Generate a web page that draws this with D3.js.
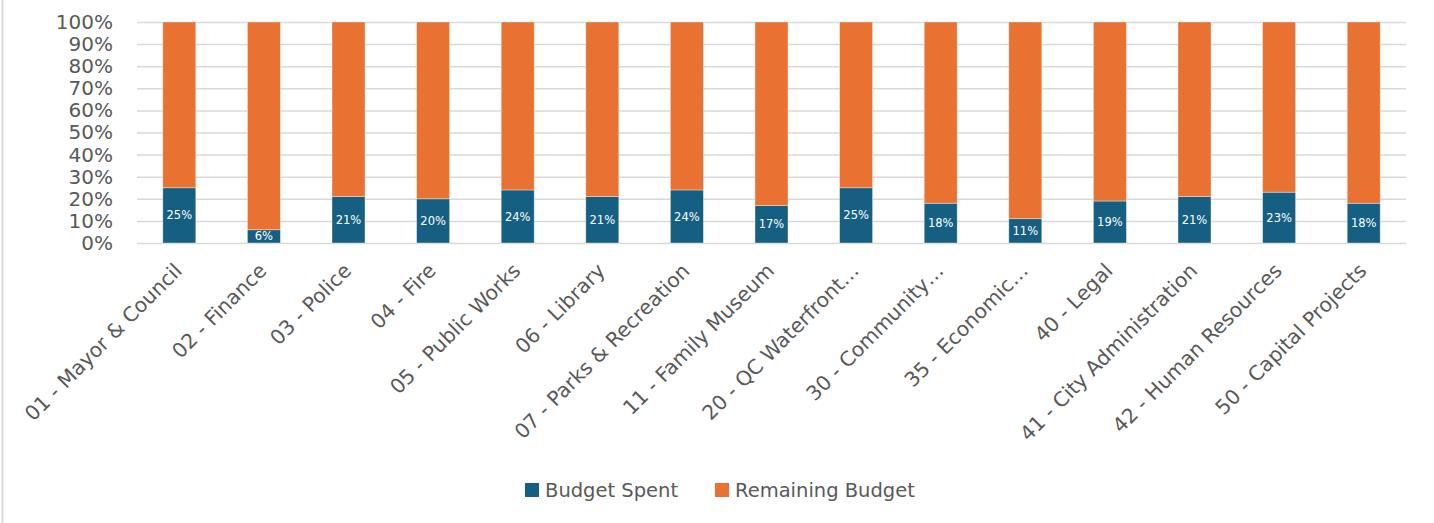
<!DOCTYPE html>
<html>
<head>
<meta charset="utf-8">
<script src="https://cdn.jsdelivr.net/npm/d3@7"></script>
<style>
  html, body { margin: 0; padding: 0; background: #fff; }
  #chart { width: 1434px; height: 523px; }
  text { font-family: "DejaVu Sans", "Open Sans", sans-serif; }
</style>
</head>
<body>
<div id="chart"></div>
<script>
const departments = [
  '01 - Mayor & Council', '02 - Finance', '03 - Police', '04 - Fire', '05 - Public Works',
  '06 - Library', '07 - Parks & Recreation', '11 - Family Museum', '20 - QC Waterfront\u2026',
  '30 - Community\u2026', '35 - Economic\u2026', '40 - Legal', '41 - City Administration',
  '42 - Human Resources', '50 - Capital Projects'
];
const budgetSpent = [25, 6, 21, 20, 24, 21, 24, 17, 25, 18, 11, 19, 21, 23, 18];
const remainingBudget = budgetSpent.map((v) => 100 - v);
const seriesNames = ['Budget Spent', 'Remaining Budget'];
const yTicks = [0, 10, 20, 30, 40, 50, 60, 70, 80, 90, 100];

const colors = { 'Budget Spent': '#156082', 'Remaining Budget': '#e97132' };
const textColor = '#595959';

const width = 1434, height = 523;
const margin = { top: 22, right: 28, bottom: 280, left: 137 };
const innerW = width - margin.left - margin.right;
const innerH = height - margin.top - margin.bottom;

const svg = d3.select('#chart').append('svg').attr('width', width).attr('height', height);
svg.append('line').attr('x1', 2.5).attr('x2', 2.5).attr('y1', 0).attr('y2', height)
  .attr('stroke', '#d9d9d9').attr('stroke-width', 2);

const g = svg.append('g').attr('transform', `translate(${margin.left},${margin.top})`);

const x = d3.scaleBand().domain(departments).range([0, innerW]).paddingInner(0.61).paddingOuter(0.305);
const y = d3.scaleLinear().domain([0, 100]).range([innerH, 0]);

// gridlines
g.append('g').selectAll('line').data(yTicks).join('line')
  .attr('x1', 0).attr('x2', innerW)
  .attr('y1', (d) => y(d) + 0.5).attr('y2', (d) => y(d) + 0.5)
  .attr('stroke', '#d9d9d9').attr('stroke-width', 1.5);

// y axis labels
const yAxis = g.append('g').call(d3.axisLeft(y).tickValues(yTicks).tickFormat((d) => d + '%').tickSize(0).tickPadding(24));
yAxis.select('.domain').remove();
yAxis.selectAll('text').attr('fill', textColor).style('font-size', '20px').style('font-family', '"DejaVu Sans", sans-serif');

const rows = departments.map((name, i) => ({ name, 'Budget Spent': budgetSpent[i], 'Remaining Budget': remainingBudget[i] }));
const stacked = d3.stack().keys(seriesNames)(rows);

const layers = g.append('g').selectAll('g').data(stacked).join('g')
  .attr('fill', (d) => colors[d.key]);
layers.selectAll('rect').data((d) => d).join('rect')
  .attr('x', (d) => x(d.data.name))
  .attr('width', x.bandwidth())
  .attr('y', (d) => y(d[1]))
  .attr('height', (d) => y(d[0]) - y(d[1]))
  .attr('stroke', '#fff').attr('stroke-opacity', 0.5).attr('stroke-width', 0.75);

// data labels on spent
g.append('g').selectAll('text').data(stacked[0]).join('text')
  .attr('x', (d) => x(d.data.name) + x.bandwidth() / 2)
  .attr('y', (d) => (y(d[0]) + y(d[1])) / 2)
  .attr('dy', '0.35em')
  .attr('text-anchor', 'middle')
  .attr('fill', '#fff')
  .style('font-size', '11.5px')
  .text((d) => d.data['Budget Spent'] + '%');

// x axis labels
g.append('g').selectAll('text').data(departments).join('text')
  .attr('transform', (d) => `translate(${x(d) + x.bandwidth() / 2 - 1},${innerH + 24}) rotate(-45)`)
  .attr('text-anchor', 'end')
  .attr('dy', '0.35em')
  .attr('fill', textColor)
  .style('font-size', '20.3px')
  .text((d) => d);

// legend
const legend = svg.append('g').attr('transform', 'translate(525,490)');
const legendX = [0, 190];
seriesNames.forEach((name, i) => {
  const item = legend.append('g').attr('transform', `translate(${legendX[i]},0)`);
  item.append('rect').attr('x', 0).attr('y', -7).attr('width', 14).attr('height', 14).attr('fill', colors[name]);
  item.append('text').attr('x', 20).attr('dy', '0.35em').attr('fill', textColor).style('font-size', '19.5px').text(name);
});
</script>
</body>
</html>
